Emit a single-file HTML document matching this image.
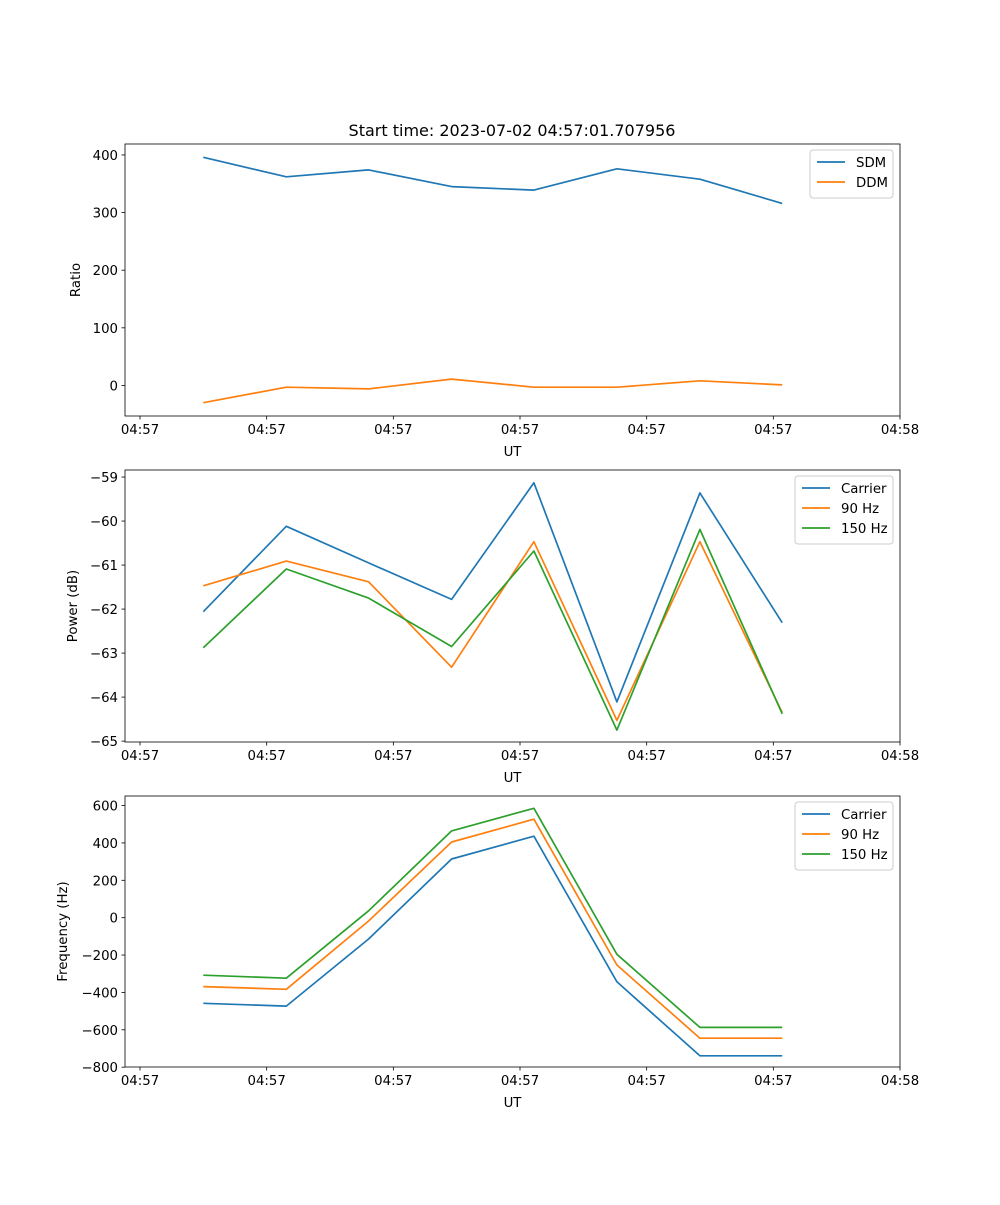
<!DOCTYPE html>
<html><head><meta charset="utf-8"><style>
body{margin:0;background:#fff;}
svg text{font-family:"DejaVu Sans","Liberation Sans",sans-serif;font-size:13.3px;fill:#000;}
</style></head><body>
<svg id="fig" width="1000" height="1200" xmlns="http://www.w3.org/2000/svg">
<rect width="1000" height="1200" fill="#fff"/>
<text x="512" y="136" text-anchor="middle" style="font-size:16px">Start time: 2023-07-02 04:57:01.707956</text>
</svg>
<script>
// time offsets (s) of samples
const times = [1.0, 2.31, 3.61, 4.92, 6.22, 7.53, 8.84, 10.14];
const xTickVals = [0, 2, 4, 6, 8, 10, 12];
const xTickLabels = ["04:57","04:57","04:57","04:57","04:57","04:57","04:58"];
const sdm = [396, 362, 374, 345, 339, 376, 358, 316];
const ddm = [-30, -3, -6, 11, -3, -3, 8, 1];
const powCarrier = [-62.06, -60.12, -60.95, -61.78, -59.13, -64.11, -59.36, -62.31];
const pow90 = [-61.47, -60.91, -61.38, -63.32, -60.47, -64.53, -60.47, -64.35];
const pow150 = [-62.88, -61.09, -61.75, -62.85, -60.68, -64.75, -60.19, -64.38];
const freqCarrier = [-458, -473, -114, 314, 436, -343, -739, -739];
const freq90 = [-369, -383, -18, 405, 527, -253, -645, -645];
const freq150 = [-308, -324, 37, 464, 585, -196, -587, -587];
const ratioTicks = [0, 100, 200, 300, 400];
const powTicks = [-65, -64, -63, -62, -61, -60, -59];
const freqTicks = [-800, -600, -400, -200, 0, 200, 400, 600];

const NS = "http://www.w3.org/2000/svg";
const svg = document.getElementById('fig');
const L = 125, R = 900, xmin = -0.237, xmax = 12.0;
const C = ['#1f77b4', '#ff7f0e', '#2ca02c'];
function mk(tag, attrs, parent) { const e = document.createElementNS(NS, tag); for (const k in attrs) e.setAttribute(k, attrs[k]); (parent || svg).appendChild(e); return e; }
function xs(t) { return L + (t - xmin) / (xmax - xmin) * (R - L); }

function panel(id, top, bot, ymin, ymax, ticks, fmt, ylabel, series, names, legend) {
  const g = mk('g', {});
  
  
  const ys = v => bot - (v - ymin) / (ymax - ymin) * (bot - top);
  series.forEach((s, i) => {
    const p = mk('polyline', { points: s.map((v, j) => xs(times[j]).toFixed(1) + ',' + ys(v).toFixed(1)).join(' '), fill: 'none', stroke: C[i], 'stroke-width': 1.7, 'stroke-linejoin': 'round' }, g);
    
    
  });
  const fr = mk('rect', { x: L, y: top, width: R - L, height: bot - top, fill: 'none', stroke: '#000', 'stroke-width': 0.8 }, g);
  
  
  xTickVals.forEach((t, i) => {
    const x = xs(t);
    mk('line', { x1: x, x2: x, y1: bot, y2: bot + 3.5, stroke: '#000', 'stroke-width': 0.8 }, g);
    const tx = mk('text', { x: x, y: bot + 18, 'text-anchor': 'middle' }, g);
    tx.textContent = xTickLabels[i];
    
    
  });
  ticks.forEach(v => {
    const y = ys(v);
    mk('line', { x1: L - 3.5, x2: L, y1: y, y2: y, stroke: '#000', 'stroke-width': 0.8 }, g);
    const tx = mk('text', { x: L - 7, y: y + 5, 'text-anchor': 'end' }, g);
    tx.textContent = fmt(v);
    
    
  });
  const xl = mk('text', { x: (L + R) / 2, y: bot + 40, 'text-anchor': 'middle' }, g);
  xl.textContent = 'UT';
  
  
  const cy = (top + bot) / 2;
  const yl = mk('text', { x: 0, y: 0, 'text-anchor': 'middle', transform: 'translate(' + legend.ylx + ',' + cy + ') rotate(-90)' }, g);
  yl.textContent = ylabel;
  
  
  const lg = mk('g', {}, g);
  
  
  mk('rect', { x: legend.x, y: top + 6, width: 893 - legend.x, height: 8 + names.length * 20, rx: 3, fill: '#fff', 'fill-opacity': 0.8, stroke: '#ccc', 'stroke-width': 1 }, lg);
  names.forEach((n, i) => {
    const y = top + 18 + i * 20;
    mk('line', { x1: legend.x + 7, x2: legend.x + 35, y1: y, y2: y, stroke: C[i], 'stroke-width': 1.7 }, lg);
    const t = mk('text', { x: legend.x + 46, y: y + 5 }, lg);
    t.textContent = n;
    
    
  });
}
panel('ratio', 144, 416, -53, 419, ratioTicks, v => String(v), 'Ratio', [sdm, ddm], ['SDM', 'DDM'], { x: 810, ylx: 80 });
panel('power', 470, 742, -65.02, -58.84, powTicks, v => String(v).replace('-', '\u2212'), 'Power (dB)', [powCarrier, pow90, pow150], ['Carrier', '90 Hz', '150 Hz'], { x: 795, ylx: 77 });
panel('frequency', 796, 1067, -799, 651, freqTicks, v => String(v).replace('-', '\u2212'), 'Frequency (Hz)', [freqCarrier, freq90, freq150], ['Carrier', '90 Hz', '150 Hz'], { x: 795, ylx: 67 });
</script>
</body></html>
